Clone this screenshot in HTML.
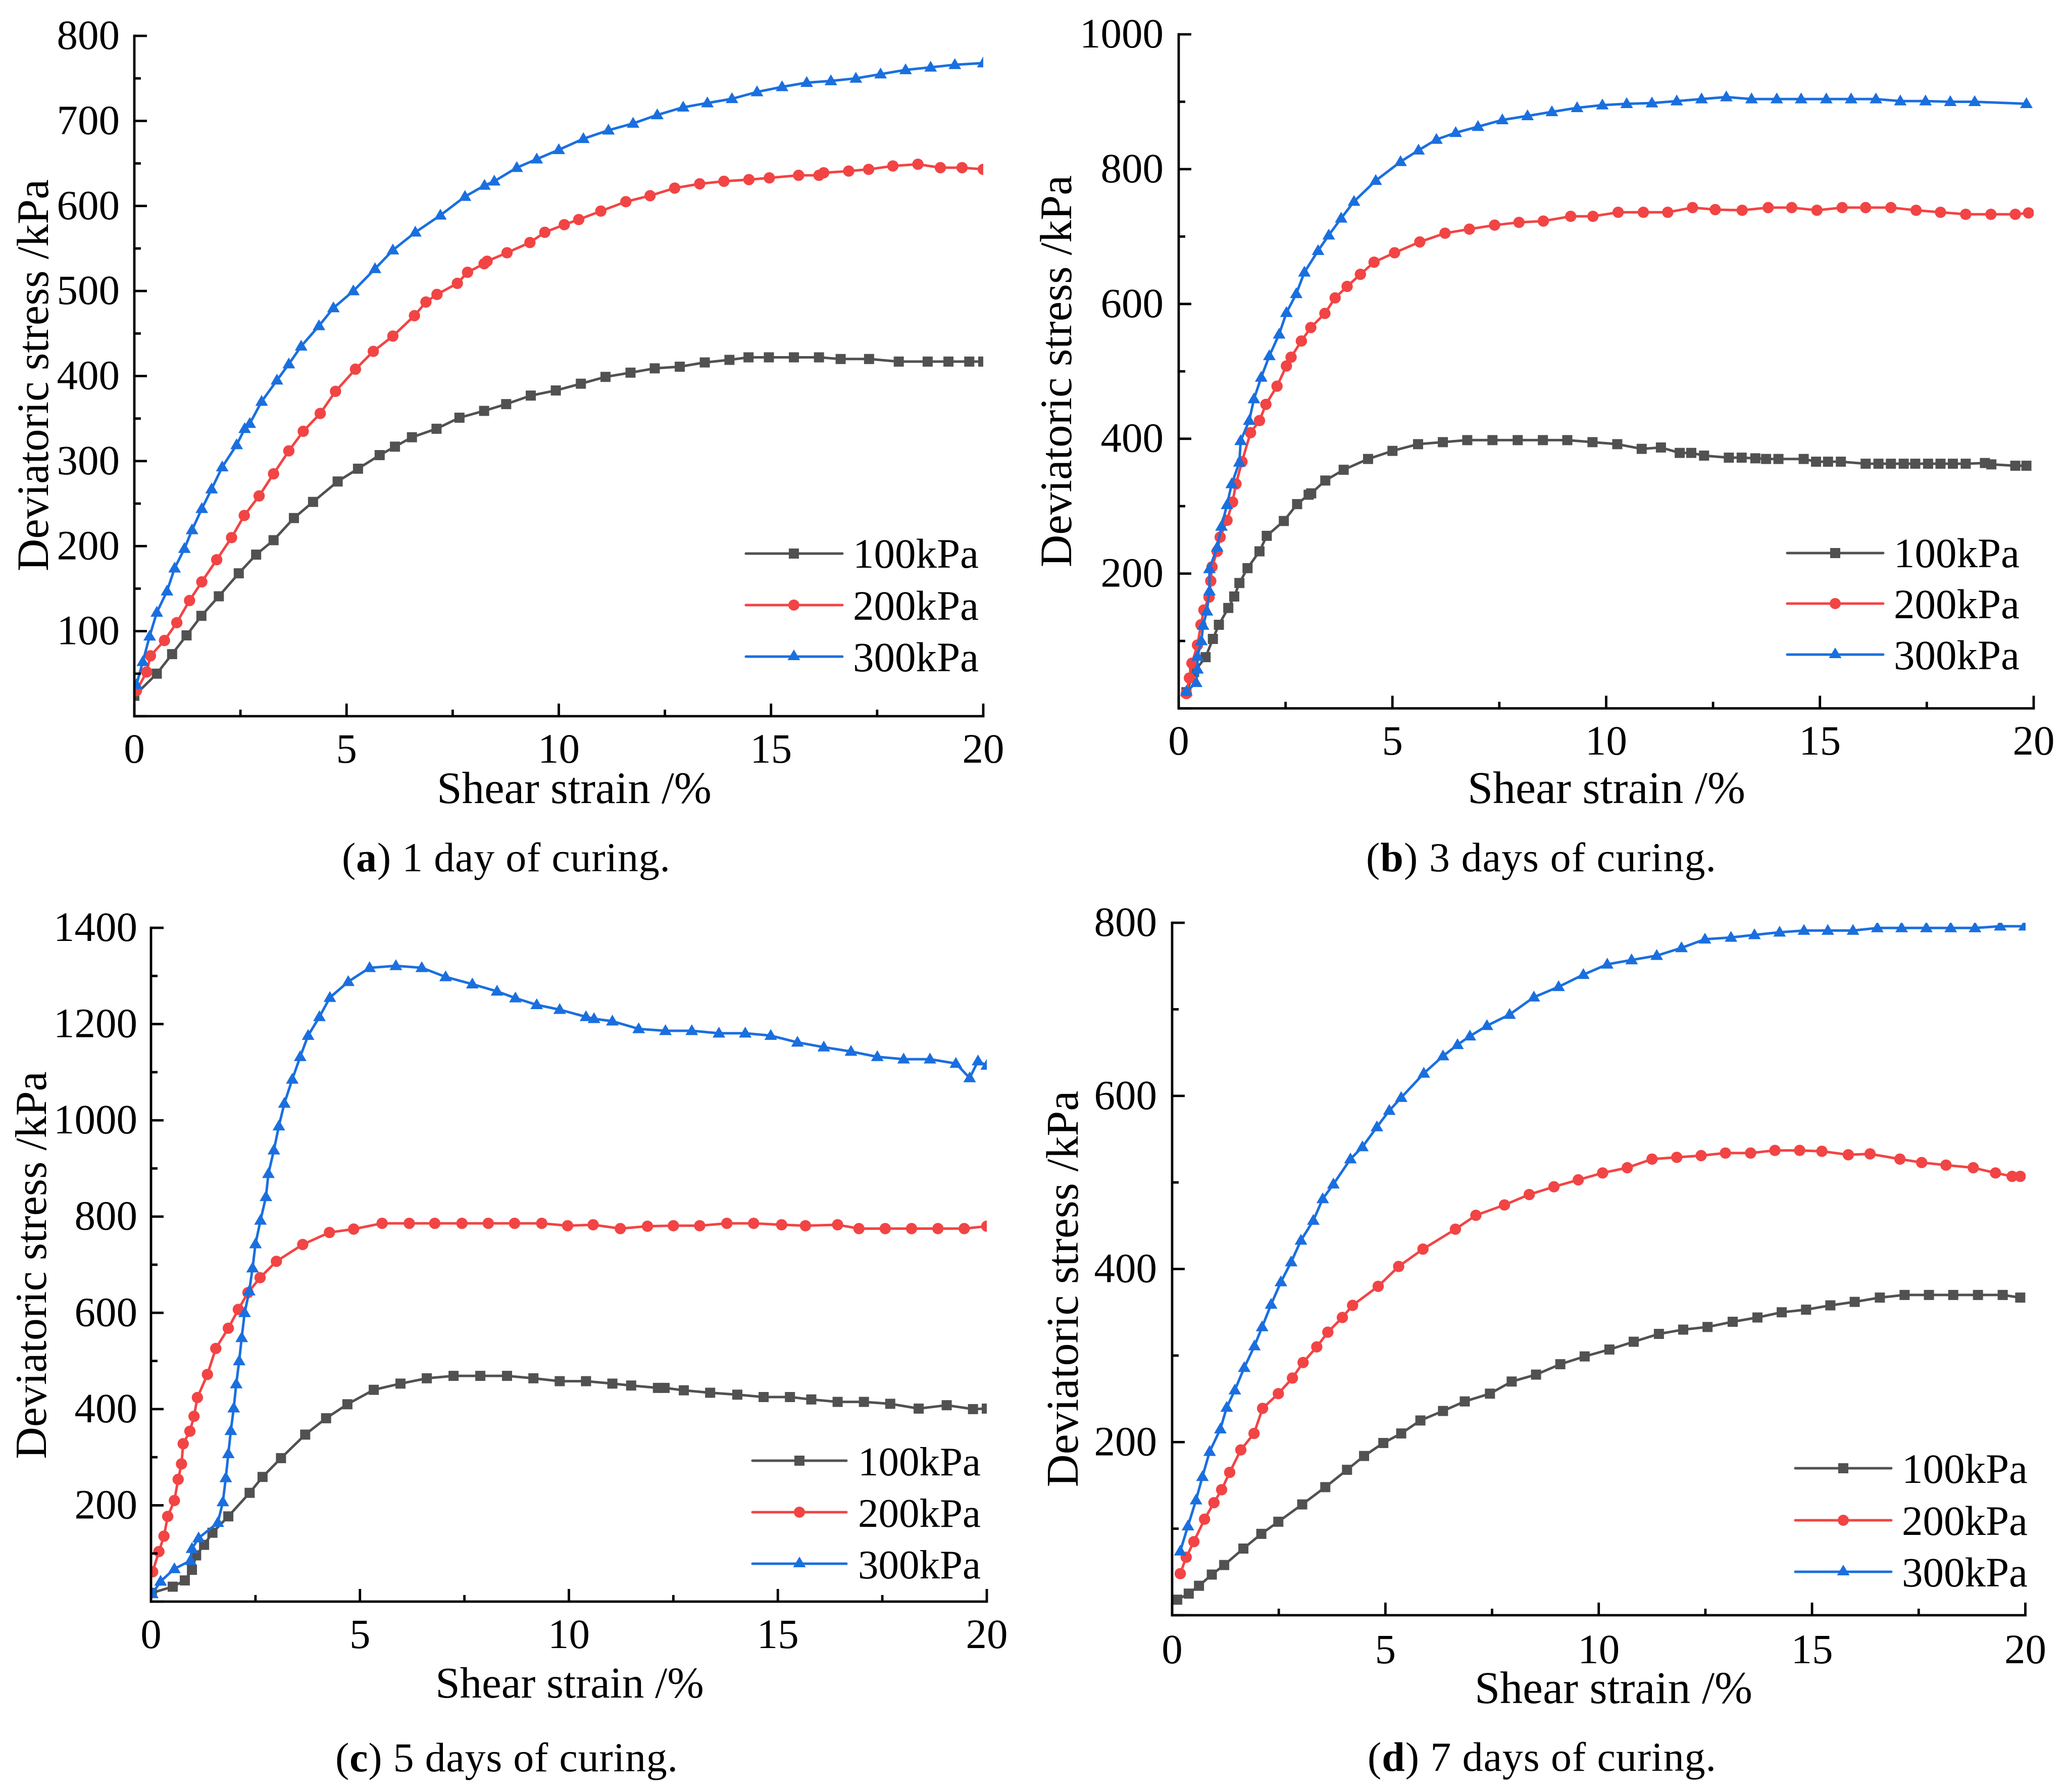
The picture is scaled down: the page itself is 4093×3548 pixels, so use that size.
<!DOCTYPE html>
<html lang="en">
<head>
<meta charset="utf-8">
<title>Deviatoric stress vs shear strain</title>
<style>
html,body{margin:0;padding:0;background:#fff;}
svg{display:block;}
text{font-family:"Liberation Serif",serif;fill:#000;}
.tick{font-size:83px;}
.title{font-size:89px;}
.leg{font-size:83px;}
.cap{font-size:82px;}
</style>
</head>
<body>
<svg id="figure" xmlns="http://www.w3.org/2000/svg" width="4093" height="3548" viewBox="0 0 4093 3548">
<rect x="0" y="0" width="4093" height="3548" fill="#fff"/>
<defs>
<clipPath id="clip-a"><rect x="266" y="71" width="1681" height="1347"/></clipPath>
<clipPath id="clip-b"><rect x="2334" y="68" width="1693" height="1335"/></clipPath>
<clipPath id="clip-c"><rect x="299" y="1837" width="1655" height="1334"/></clipPath>
<clipPath id="clip-d"><rect x="2321" y="1827" width="1690" height="1371"/></clipPath>
</defs>

<g id="panel-a">
<text class="title" x="1137" y="1590" text-anchor="middle">Shear strain /%</text>
<text class="title" transform="translate(95,743) rotate(-90)" text-anchor="middle">Deviatoric stress /kPa</text>
<text class="cap" x="677" y="1725" textLength="650">(<tspan font-weight="bold">a</tspan>) 1 day of curing.</text>
<g>
<g><line x1="1477" y1="1096" x2="1668" y2="1096" stroke="#515151" stroke-width="5" stroke-linecap="round"/><rect x="1562" y="1086" width="20" height="20" fill="#515151"/><text class="leg" x="1689" y="1124">100kPa</text></g>
<g><line x1="1477" y1="1198" x2="1668" y2="1198" stroke="#F24444" stroke-width="5" stroke-linecap="round"/><circle cx="1572" cy="1198" r="11" fill="#F24444"/><text class="leg" x="1689" y="1227">200kPa</text></g>
<g><line x1="1477" y1="1300" x2="1668" y2="1300" stroke="#1A6FDF" stroke-width="5" stroke-linecap="round"/><path d="M1572 1286L1584.500 1307L1559.500 1307Z" fill="#1A6FDF"/><text class="leg" x="1689" y="1329">300kPa</text></g>
</g>
</g>

<g id="panel-b">
<text class="title" style="font-size:90px" x="3181" y="1590" text-anchor="middle">Shear strain /%</text>
<text class="title" transform="translate(2121,735) rotate(-90)" text-anchor="middle">Deviatoric stress /kPa</text>
<text class="cap" x="2705" y="1725" textLength="693">(<tspan font-weight="bold">b</tspan>) 3 days of curing.</text>
<g>
<g><line x1="3539" y1="1095" x2="3729" y2="1095" stroke="#515151" stroke-width="5" stroke-linecap="round"/><rect x="3624" y="1085" width="20" height="20" fill="#515151"/><text class="leg" x="3750" y="1123">100kPa</text></g>
<g><line x1="3539" y1="1195" x2="3729" y2="1195" stroke="#F24444" stroke-width="5" stroke-linecap="round"/><circle cx="3634" cy="1195" r="11" fill="#F24444"/><text class="leg" x="3750" y="1224">200kPa</text></g>
<g><line x1="3539" y1="1296" x2="3729" y2="1296" stroke="#1A6FDF" stroke-width="5" stroke-linecap="round"/><path d="M3634 1282L3646.500 1303L3621.500 1303Z" fill="#1A6FDF"/><text class="leg" x="3750" y="1325">300kPa</text></g>
</g>
</g>

<g id="panel-c">
<text class="title" style="font-size:87px" x="1128" y="3361" text-anchor="middle">Shear strain /%</text>
<text class="title" style="font-size:88px" transform="translate(91,2505) rotate(-90)" text-anchor="middle">Deviatoric stress /kPa</text>
<text class="cap" x="664" y="3507" textLength="678">(<tspan font-weight="bold">c</tspan>) 5 days of curing.</text>
<g>
<g><line x1="1490" y1="2892" x2="1676" y2="2892" stroke="#515151" stroke-width="5" stroke-linecap="round"/><rect x="1573" y="2882" width="20" height="20" fill="#515151"/><text class="leg" x="1699" y="2921" style="font-size:81px">100kPa</text></g>
<g><line x1="1490" y1="2994" x2="1676" y2="2994" stroke="#F24444" stroke-width="5" stroke-linecap="round"/><circle cx="1583" cy="2994" r="11" fill="#F24444"/><text class="leg" x="1699" y="3023" style="font-size:81px">200kPa</text></g>
<g><line x1="1490" y1="3096" x2="1676" y2="3096" stroke="#1A6FDF" stroke-width="5" stroke-linecap="round"/><path d="M1583 3082L1595.500 3103L1570.500 3103Z" fill="#1A6FDF"/><text class="leg" x="1699" y="3125" style="font-size:81px">300kPa</text></g>
</g>
</g>

<g id="panel-d">
<text class="title" style="font-size:90px" x="3195" y="3372" text-anchor="middle">Shear strain /%</text>
<text class="title" style="font-size:90px" transform="translate(2134,2552) rotate(-90)" text-anchor="middle">Deviatoric stress /kPa</text>
<text class="cap" x="2708" y="3506" textLength="690">(<tspan font-weight="bold">d</tspan>) 7 days of curing.</text>
<g>
<g><line x1="3555" y1="2907" x2="3745" y2="2907" stroke="#515151" stroke-width="5" stroke-linecap="round"/><rect x="3640" y="2897" width="20" height="20" fill="#515151"/><text class="leg" x="3766" y="2936">100kPa</text></g>
<g><line x1="3555" y1="3010" x2="3745" y2="3010" stroke="#F24444" stroke-width="5" stroke-linecap="round"/><circle cx="3650" cy="3010" r="11" fill="#F24444"/><text class="leg" x="3766" y="3039">200kPa</text></g>
<g><line x1="3555" y1="3112" x2="3745" y2="3112" stroke="#1A6FDF" stroke-width="5" stroke-linecap="round"/><path d="M3650 3098L3662.500 3119L3637.500 3119Z" fill="#1A6FDF"/><text class="leg" x="3766" y="3141">300kPa</text></g>
</g>
</g>
</svg>

<script>
// ---------- shared tick labels ----------
const strainTicks = [0, 5, 10, 15, 20];
const stressTicksA = [100, 200, 300, 400, 500, 600, 700, 800];
const stressTicksB = [200, 400, 600, 800, 1000];
const stressTicksC = [200, 400, 600, 800, 1000, 1200, 1400];
const stressTicksD = [200, 400, 600, 800];

// ---------- panel (a) 1 day ----------
const a100Strain = [0,.53,.89,1.23,1.58,1.99,2.46,2.87,3.28,3.76,4.21,4.79,5.27,5.78,6.14,6.54,7.12,7.66,8.24,8.76,9.34,9.93,10.52,11.1,11.69,12.26,12.85,13.44,14.02,14.47,14.95,15.54,16.13,16.64,17.31,18.01,18.69,19.18,19.67,20];
const a100Stress = [24,50,73,95,118,141,168,190,207,233,252,276,291,307,317,328,338,351,359,367,377,383,391,399,404,409,411,416,419,422,422,422,422,420,420,417,417,417,417,417];
const a200Strain = [.05,.29,.38,.71,1,1.3,1.59,1.94,2.29,2.59,2.94,3.28,3.64,3.98,4.38,4.74,5.21,5.63,6.09,6.6,6.87,7.13,7.61,7.85,8.24,8.31,8.78,9.32,9.67,10.13,10.47,10.99,11.58,12.15,12.73,13.32,13.89,14.48,14.96,15.65,16.13,16.24,16.83,17.3,17.87,18.46,18.99,19.5,20];
const a200Stress = [30,52,71,89,110,136,158,184,210,236,259,285,312,335,356,382,408,429,447,471,487,496,509,522,532,535,545,557,569,578,584,594,605,612,621,626,629,631,633,636,636,639,641,643,647,649,645,645,643];
const a300Strain = [.05,.2,.36,.53,.77,.95,1.18,1.36,1.59,1.82,2.07,2.41,2.6,2.72,3,3.36,3.64,3.93,4.35,4.69,5.16,5.67,6.09,6.62,7.21,7.79,8.25,8.48,9.01,9.48,10,10.58,11.17,11.75,12.32,12.93,13.5,14.08,14.67,15.26,15.84,16.41,17,17.58,18.17,18.76,19.33,20];
const a300Stress = [37,64,94,122,147,174,197,219,244,267,293,319,338,344,370,395,414,435,459,480,500,526,548,569,589,611,624,629,645,655,666,679,689,697,707,716,721,726,734,740,745,747,750,755,760,763,766,768];

// ---------- panel (b) 3 days ----------
const b100Strain = [.18,.36,.63,.8,.94,1.16,1.3,1.42,1.61,1.89,2.06,2.46,2.77,3.04,3.1,3.43,3.86,4.43,5,5.6,6.18,6.75,7.34,7.93,8.52,9.09,9.68,10.26,10.83,11.28,11.72,11.99,12.29,12.87,13.17,13.49,13.74,14.03,14.62,14.91,15.19,15.49,16.07,16.37,16.66,16.96,17.23,17.53,17.82,18.11,18.41,18.86,19.01,19.57,19.83];
const b100Stress = [24,54,76,103,124,149,166,186,208,233,256,278,303,317,319,338,354,370,382,392,395,398,398,398,398,398,395,392,385,387,379,379,375,372,372,371,370,370,370,366,366,366,363,363,363,363,363,363,363,363,363,364,362,360,360];
const b200Strain = [.18,.25,.31,.44,.52,.59,.71,.75,.78,.9,.97,1.13,1.26,1.34,1.48,1.68,1.89,2.04,2.3,2.52,2.63,2.87,3.09,3.42,3.66,3.94,4.25,4.57,5.05,5.64,6.23,6.8,7.39,7.96,8.53,9.17,9.69,10.28,10.87,11.44,12.02,12.55,13.18,13.79,14.34,14.93,15.52,16.07,16.66,17.25,17.82,18.41,19,19.57,19.88];
const b200Stress = [22,45,67,94,124,146,165,189,210,233,254,279,306,333,366,409,427,451,478,508,521,545,565,586,609,626,644,662,676,692,705,711,717,721,723,730,730,736,736,736,743,740,739,743,743,739,743,743,743,739,736,733,733,733,735];
const b300Strain = [.18,.41,.44,.44,.53,.57,.66,.72,.72,.9,1,1.13,1.24,1.42,1.45,1.65,1.76,1.93,2.12,2.35,2.52,2.75,2.94,3.26,3.51,3.8,4.1,4.61,5.19,5.61,6.03,6.48,7,7.57,8.16,8.73,9.32,9.91,10.48,11.07,11.65,12.23,12.81,13.4,13.99,14.56,15.15,15.73,16.31,16.88,17.47,18.05,18.62,19.83];
const b300Stress = [25,38,58,77,100,123,144,174,207,239,270,302,333,365,397,427,459,491,523,555,587,615,647,679,702,727,752,783,811,828,844,854,863,873,879,885,891,895,897,898,901,904,907,904,904,904,904,904,904,901,901,900,900,897];

// ---------- panel (c) 5 days ----------
const c100Strain = [.02,.52,.81,.98,1.08,1.27,1.47,1.85,2.36,2.67,3.11,3.69,4.19,4.7,5.33,5.97,6.6,7.24,7.88,8.52,9.15,9.78,10.41,11.04,11.49,12.13,12.29,12.75,13.38,14.03,14.66,15.29,15.8,16.43,17.06,17.69,18.37,19.04,19.67,20];
const c100Stress = [18,31,44,66,96,118,143,177,226,259,298,347,381,410,440,453,464,469,469,469,464,458,458,453,449,444,444,439,434,430,425,425,420,415,415,411,401,408,400,401];
const c200Strain = [.04,.19,.31,.4,.56,.65,.73,.77,.93,1.03,1.11,1.35,1.55,1.85,2.09,2.32,2.61,3,3.63,4.27,4.85,5.53,6.18,6.79,7.44,8.07,8.7,9.35,9.97,10.58,11.23,11.88,12.5,13.13,13.78,14.42,15.09,15.66,16.43,16.94,17.57,18.2,18.83,19.46,20];
const c200Stress = [62,104,136,177,210,254,286,328,354,385,424,472,526,568,607,642,673,707,742,767,774,786,786,786,786,786,786,786,781,783,775,780,781,781,786,786,783,781,783,775,775,775,775,775,780];
const c300Strain = [.03,.23,.56,.94,.98,1.14,1.6,1.72,1.79,1.85,1.91,1.98,2.04,2.11,2.17,2.24,2.35,2.43,2.5,2.62,2.75,2.81,2.94,3.06,3.19,3.38,3.57,3.76,4.03,4.28,4.72,5.23,5.86,6.48,7.05,7.69,8.28,8.72,9.23,9.78,10.41,10.6,11.04,11.67,12.31,12.94,13.59,14.22,14.83,15.47,16.1,16.75,17.38,18.01,18.64,19.26,19.59,19.79,20];
const c300Stress = [16,42,68,85,110,132,164,207,257,307,355,402,452,500,548,600,645,693,743,792,841,889,938,988,1035,1085,1132,1176,1215,1255,1288,1317,1321,1317,1298,1283,1268,1254,1240,1230,1215,1211,1206,1190,1186,1186,1181,1181,1176,1162,1152,1143,1132,1127,1127,1118,1088,1123,1114];

// ---------- panel (d) 7 days ----------
const d100Strain = [.12,.39,.63,.93,1.22,1.67,2.09,2.49,3.05,3.59,4.1,4.5,4.95,5.37,5.82,6.35,6.86,7.45,7.96,8.53,9.1,9.67,10.25,10.82,11.41,11.98,12.55,13.14,13.72,14.29,14.86,15.43,16,16.59,17.17,17.74,18.31,18.89,19.47,19.88];
const d100Stress = [18,25,34,47,58,77,94,108,128,148,168,184,199,210,225,236,247,256,270,278,290,299,307,316,325,330,333,339,344,350,353,358,362,367,370,370,370,370,370,367];
const d200Strain = [.19,.33,.51,.76,.98,1.16,1.35,1.61,1.92,2.12,2.49,2.82,3.07,3.39,3.65,3.99,4.23,4.83,5.31,5.88,6.64,7.12,7.79,8.37,8.95,9.52,10.09,10.67,11.25,11.83,12.4,12.97,13.56,14.13,14.71,15.23,15.85,16.36,17.06,17.57,18.14,18.78,19.3,19.69,19.88];
const d200Stress = [48,67,85,111,130,145,165,191,210,239,256,274,292,310,327,344,358,380,403,423,446,462,474,486,495,503,511,517,527,529,531,534,534,537,537,536,532,533,527,523,520,517,511,507,507];
const d300Strain = [.19,.37,.56,.71,.88,1.13,1.28,1.47,1.69,1.93,2.11,2.32,2.55,2.79,3.02,3.31,3.53,3.78,4.18,4.46,4.8,5.09,5.37,5.9,6.35,6.69,6.98,7.38,7.91,8.48,9.06,9.64,10.2,10.77,11.36,11.94,12.49,13.1,13.65,14.24,14.81,15.37,15.96,16.53,17.1,17.68,18.25,18.82,19.41,19.98];
const d300Stress = [74,103,133,160,189,215,240,260,286,311,333,359,385,408,433,456,481,498,527,541,564,583,598,626,646,659,669,681,694,714,726,740,752,757,762,771,781,783,786,789,791,791,791,794,794,794,794,794,796,796];

const SVGNS = 'http://www.w3.org/2000/svg';
const GRAY = '#515151', RED = '#F24444', BLUE = '#1A6FDF';

function make(tag, parent) {
  const el = document.createElementNS(SVGNS, tag);
  parent.appendChild(el);
  return el;
}

function drawSeries(group, clipId, xs, ys, sx, sy, color, shape, seriesName) {
  const g = make('g', group);
  
  
  g.setAttribute('clip-path', 'url(#' + clipId + ')');
  const line = make('polyline', g);
  
  
  line.setAttribute('fill', 'none');
  line.setAttribute('stroke', color);
  line.setAttribute('stroke-width', '5');
  line.setAttribute('stroke-linejoin', 'round');
  line.setAttribute('points', xs.map(function (v, i) { return sx(v).toFixed(1) + ',' + sy(ys[i]).toFixed(1); }).join(' '));
  xs.forEach(function (v, i) {
    const px = sx(v), py = sy(ys[i]);
    let m;
    if (shape === 'square') {
      m = make('rect', g);
      m.setAttribute('x', (px - 10).toFixed(1));
      m.setAttribute('y', (py - 10).toFixed(1));
      m.setAttribute('width', '20');
      m.setAttribute('height', '20');
    } else if (shape === 'circle') {
      m = make('circle', g);
      m.setAttribute('cx', px.toFixed(1));
      m.setAttribute('cy', py.toFixed(1));
      m.setAttribute('r', '11.2');
    } else {
      m = make('path', g);
      m.setAttribute('d', 'M' + px.toFixed(1) + ' ' + (py - 13).toFixed(1) + 'L' + (px + 12.5).toFixed(1) + ' ' + (py + 8.5).toFixed(1) + 'L' + (px - 12.5).toFixed(1) + ' ' + (py + 8.5).toFixed(1) + 'Z');
    }
    
    
    m.setAttribute('fill', color);
  });
}

function tickLine(g, x1, y1, x2, y2, name) {
  const t = make('line', g);
  
  
  t.setAttribute('x1', x1);
  t.setAttribute('y1', y1);
  t.setAttribute('x2', x2);
  t.setAttribute('y2', y2);
  t.setAttribute('stroke', '#000');
  t.setAttribute('stroke-width', '4.8');
}

function drawPanel(p) {
  const group = document.getElementById(p.id);
  const sx = function (v) { return p.x0 + (v / 20) * (p.x20 - p.x0); };
  const sy = function (v) { return p.y0 - (v / p.yMax) * (p.y0 - p.yTop); };

  p.series.forEach(function (s) {
    drawSeries(group, p.clip, s.x, s.y, sx, sy, s.color, s.shape, s.name);
  });

  const axes = make('g', group);
  
  

  tickLine(axes, p.x0, p.y0 + 2.4, p.x0, p.yTop - 2.4, 'y-axis-line');
  tickLine(axes, p.x0 - 2.4, p.y0, p.x20 + 2.4, p.y0, 'x-axis-line');

  strainTicks.forEach(function (v) {
    tickLine(axes, sx(v), p.y0, sx(v), p.y0 - 25, 'x-major-tick');
    if (v < 20) {
      tickLine(axes, sx(v + 2.5), p.y0, sx(v + 2.5), p.y0 - 13, 'x-minor-tick');
    }
    const t = make('text', axes);
    
    
    t.setAttribute('class', 'tick');
    t.setAttribute('x', sx(v));
    t.setAttribute('y', p.xLabelY);
    t.setAttribute('text-anchor', 'middle');
    t.textContent = String(v);
  });

  const step = p.yTicks[1] - p.yTicks[0];
  tickLine(axes, p.x0, p.y0, p.x0 + 25, p.y0, 'y-major-tick');
  tickLine(axes, p.x0, sy(step / 2), p.x0 + 13, sy(step / 2), 'y-minor-tick');
  p.yTicks.forEach(function (v) {
    tickLine(axes, p.x0, sy(v), p.x0 + 25, sy(v), 'y-major-tick');
    if (v < p.yMax) {
      tickLine(axes, p.x0, sy(v + step / 2), p.x0 + 13, sy(v + step / 2), 'y-minor-tick');
    }
    const t = make('text', axes);
    
    
    t.setAttribute('class', 'tick');
    t.setAttribute('x', p.yLabelX);
    t.setAttribute('y', sy(v) + 26);
    t.setAttribute('text-anchor', 'end');
    t.textContent = String(v);
  });
}

drawPanel({
  id: 'panel-a', clip: 'clip-a', x0: 266, x20: 1947, y0: 1418, yTop: 71, yMax: 800,
  yTicks: stressTicksA, xLabelY: 1510, yLabelX: 237,
  series: [
    { x: a100Strain, y: a100Stress, color: GRAY, shape: 'square', name: 'series-100kpa' },
    { x: a200Strain, y: a200Stress, color: RED, shape: 'circle', name: 'series-200kpa' },
    { x: a300Strain, y: a300Stress, color: BLUE, shape: 'triangle', name: 'series-300kpa' }
  ]
});
drawPanel({
  id: 'panel-b', clip: 'clip-b', x0: 2334, x20: 4027, y0: 1402.5, yTop: 68, yMax: 1000,
  yTicks: stressTicksB, xLabelY: 1494, yLabelX: 2304,
  series: [
    { x: b100Strain, y: b100Stress, color: GRAY, shape: 'square', name: 'series-100kpa' },
    { x: b200Strain, y: b200Stress, color: RED, shape: 'circle', name: 'series-200kpa' },
    { x: b300Strain, y: b300Stress, color: BLUE, shape: 'triangle', name: 'series-300kpa' }
  ]
});
drawPanel({
  id: 'panel-c', clip: 'clip-c', x0: 299, x20: 1954, y0: 3171, yTop: 1837, yMax: 1400,
  yTicks: stressTicksC, xLabelY: 3263, yLabelX: 272,
  series: [
    { x: c100Strain, y: c100Stress, color: GRAY, shape: 'square', name: 'series-100kpa' },
    { x: c200Strain, y: c200Stress, color: RED, shape: 'circle', name: 'series-200kpa' },
    { x: c300Strain, y: c300Stress, color: BLUE, shape: 'triangle', name: 'series-300kpa' }
  ]
});
drawPanel({
  id: 'panel-d', clip: 'clip-d', x0: 2321, x20: 4010.5, y0: 3198, yTop: 1827, yMax: 800,
  yTicks: stressTicksD, xLabelY: 3293, yLabelX: 2291,
  series: [
    { x: d100Strain, y: d100Stress, color: GRAY, shape: 'square', name: 'series-100kpa' },
    { x: d200Strain, y: d200Stress, color: RED, shape: 'circle', name: 'series-200kpa' },
    { x: d300Strain, y: d300Stress, color: BLUE, shape: 'triangle', name: 'series-300kpa' }
  ]
});
</script>
</body>
</html>
